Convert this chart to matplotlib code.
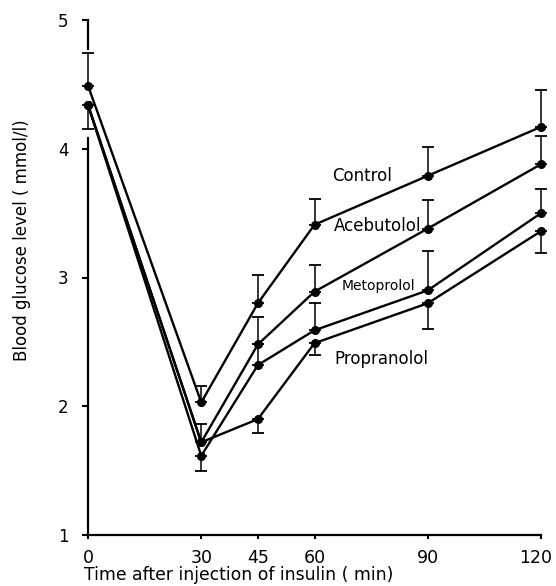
import numpy as np
import matplotlib
matplotlib.use("Agg")
import matplotlib.pyplot as plt
import matplotlib.transforms as mtransforms

plt.rcParams['font.family'] = ['DejaVu Sans']

# ---- data ----
times = [0, 30, 45, 60, 90, 120]
series_names = ["Control", "Acebutolol", "Metoprolol", "Propranolol"]
control = [4.49, 2.03, 2.80, 3.41, 3.79, 4.17]
acebutolol = [4.34, 1.72, 2.48, 2.89, 3.38, 3.88]
metoprolol = [4.34, 1.615, 2.32, 2.59, 2.90, 3.50]
propranolol = [4.34, 1.72, 1.90, 2.49, 2.80, 3.36]

# one-sided SEM bars (upper / lower); 0 = not drawn
control_up = [0.25, 0.13, 0.22, 0.20, 0.22, 0.29]
control_lo = [0, 0, 0, 0, 0, 0]
acebutolol_up = [0, 0.14, 0.21, 0.21, 0.22, 0.22]
acebutolol_lo = [0, 0, 0, 0, 0, 0]
metoprolol_up = [0, 0, 0.16, 0.21, 0.305, 0.19]
metoprolol_lo = [0, 0.12, 0, 0, 0, 0]
propranolol_up = [0, 0, 0, 0, 0, 0]
propranolol_lo = [0.19, 0, 0.11, 0.09, 0.20, 0.17]

x_ticks = [0, 30, 45, 60, 90, 120]
y_ticks = [1, 2, 3, 4, 5]
xlabel = "Time after injection of insulin ( min)"
ylabel = "Blood glucose level ( mmol/l)"

# label anchor positions (data coords)
label_pos = {"Control": (64.6, 3.75), "Acebutolol": (65.2, 3.36),
             "Metoprolol": (67.3, 2.90), "Propranolol": (65.2, 2.33)}
label_size = {"Control": 12, "Acebutolol": 12, "Metoprolol": 10, "Propranolol": 12}

W, H = 556, 586
fig = plt.figure(figsize=(W / 100, H / 100), dpi=100)
ax = fig.add_axes([88 / W, (H - 535) / H, (541 - 88) / W, (535 - 20) / H])
ax.set_xlim(0, 120)
ax.set_ylim(1, 5)

all_vals = [control, acebutolol, metoprolol, propranolol]
all_up = [control_up, acebutolol_up, metoprolol_up, propranolol_up]
all_lo = [control_lo, acebutolol_lo, metoprolol_lo, propranolol_lo]

t = np.array(times, dtype=float)
for name, vals, up, lo in zip(series_names, all_vals, all_up, all_lo):
    v = np.array(vals)
    up = np.array(up)
    lo = np.array(lo)
    ax.plot(t, v, color='black', lw=1.7, marker='o', ms=5.5, zorder=3, clip_on=False)
    m = up > 0
    if m.any():
        ax.errorbar(t[m], v[m], yerr=[np.zeros(m.sum()), up[m]], fmt='none',
                    ecolor='black', elinewidth=1.1, capsize=4.5, capthick=1.3,
                    clip_on=False, zorder=2)
    m = lo > 0
    if m.any():
        ax.errorbar(t[m], v[m], yerr=[lo[m], np.zeros(m.sum())], fmt='none',
                    ecolor='black', elinewidth=1.1, capsize=4.5, capthick=1.3,
                    clip_on=False, zorder=2)
    x0, y0 = label_pos[name]
    ax.text(x0, y0, name, fontsize=label_size[name], ha='left', va='baseline')

# broken left axis (gap around the error bar at t=0)
ax.spines['left'].set_visible(False)
ax.spines['top'].set_visible(False)
ax.spines['right'].set_visible(False)
ax.spines['bottom'].set_linewidth(1.6)
ax.plot([0, 0], [1, 4.08], color='black', lw=1.6, clip_on=False, zorder=1)
ax.plot([0, 0], [4.775, 5], color='black', lw=1.6, clip_on=False, zorder=1)

ax.set_xticks(x_ticks)
ax.set_xticklabels([str(x) for x in x_ticks], fontsize=12.5)
ax.set_yticks(y_ticks)
ax.set_yticklabels([str(y) for y in y_ticks], fontsize=12)
ax.tick_params(axis='x', direction='out', length=3, width=1.5, pad=7)
ax.tick_params(axis='y', direction='out', length=4, width=1.5, pad=10)

# nudge the last x tick label slightly left so it stays inside the figure
last = ax.get_xticklabels()[-1]
last.set_transform(last.get_transform() + mtransforms.ScaledTranslation(-5 / 100, 0, fig.dpi_scale_trans))

fig.text(84 / W, 1 - 575 / H, xlabel, fontsize=12.4, ha='left', va='center')
fig.text(22 / W, 1 - 240 / H, ylabel, fontsize=12, ha='center', va='center', rotation=90)

fig.savefig("out.png", dpi=100)
